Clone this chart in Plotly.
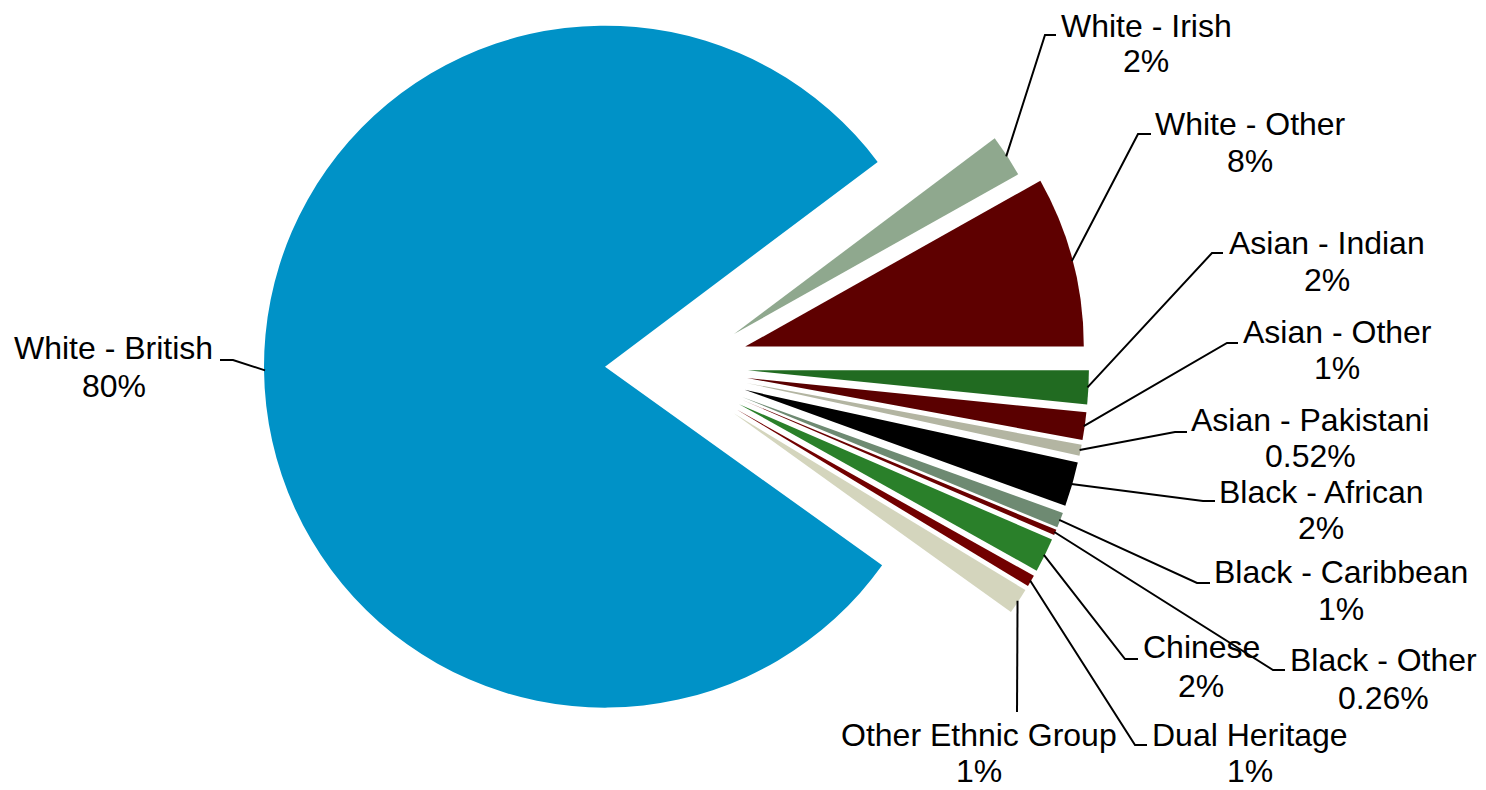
import numpy as np
import plotly.graph_objects as go

# The page body has an 8 px default margin, so the figure is drawn at (8, 8)
OFF = 8
PAGE_W, PAGE_H = 1486, 790
W, H = PAGE_W - OFF, PAGE_H - OFF

# ---------------- data ----------------
labels = ["White - Irish", "White - Other", "Asian - Indian", "Asian - Other",
          "Asian - Pakistani", "Black - African", "Black - Caribbean", "Black - Other",
          "Chinese", "Dual Heritage", "Other Ethnic Group", "White - British"]
values = [2.1, 8.15, 1.6, 1.3, 0.52, 2.1, 0.72, 0.26, 1.62, 0.55, 1.23, 79.85]
pct_text = ["2%", "8%", "2%", "1%", "0.52%", "2%", "1%", "0.26%", "2%", "1%", "1%", "80%"]
colors = ["#8FA88E", "#5E0000", "#216B21", "#5A0000", "#B3B5A2", "#000000",
          "#6E8A72", "#6A0000", "#2A802A", "#720000", "#D4D5BD", "#0092C7"]

# ---------------- layout (page pixels) ----------------
CX, CY = 662, 366        # centre of the un-exploded pie
R = 341                  # radius
PULL_SMALL = 86          # explosion of the small slices
PULL_BIG = 57            # explosion of the main slice
ROTATION = 53.1          # start angle of first slice (deg clockwise from 12 o'clock)

label_x = [1146, 1250, 1327, 1337, 1310, 1321, 1341, 1383, 1201, 1250, 979, 114]
name_y = [26, 124, 243, 332, 420, 492, 572, 660, 647, 735, 735, 348]
pct_y = [61, 161, 280, 368, 456, 528, 609, 698, 686, 771, 771, 386]
elbow = [(1045, 35), (1138, 134), (1212, 253), (1227, 343), (1175, 432), (1203, 501),
         (1197, 583), (1273, 670), (1125, 659), (1135, 745), (1017, 712), (233, 360)]
tick_end = [(1056, 35), (1151, 134), (1223, 253), (1238, 343), (1187, 432), (1215, 501),
            (1210, 583), (1285, 670), (1138, 659), (1147, 745), None, (220, 360)]


def px(x):
    return (x - OFF) / W


def py(y):
    return 1 - (y - OFF) / H


def clamp(v):
    return float(min(1.0, max(0.0, v)))


n = len(values)
total = float(sum(values))
cum = np.concatenate([[0.0], np.cumsum(values)[:-1]])
big = int(np.argmax(values))

fig = go.Figure()
shapes = []
annotations = []
font = dict(family="Liberation Sans, Arial, sans-serif", size=32, color="black")

for i in range(n):
    a0 = ROTATION + 360.0 * cum[i] / total
    a1 = a0 + 360.0 * values[i] / total
    bis = np.radians((a0 + a1) / 2.0)
    ux, uy = np.sin(bis), -np.cos(bis)
    pull = PULL_BIG if i == big else PULL_SMALL
    ax, ay = CX + pull * ux, CY + pull * uy
    r = R
    if ay - OFF < R:  # keep the domain inside the figure
        ay = (ay + R + OFF) / 2.0
        r = ay - OFF
    dom_x = [clamp(px(ax - r)), clamp(px(ax + r))]
    dom_y = [clamp(py(ay + r)), clamp(py(ay - r))]
    slice_colors = [colors[j] if j == i else "rgba(0,0,0,0)" for j in range(n)]
    fig.add_trace(go.Pie(
        labels=labels, values=values, sort=False, direction="clockwise",
        rotation=ROTATION, textinfo="none",
        marker=dict(colors=slice_colors, line=dict(width=0)),
        domain=dict(x=dom_x, y=dom_y), showlegend=False,
        hoverinfo="label+percent", name=labels[i],
    ))

    # leader line from the slice arc to the label
    sx, sy = ax + (r - 1) * ux, ay + (r - 1) * uy
    pts = [(sx, sy), elbow[i]]
    if tick_end[i] is not None:
        pts.append(tick_end[i])
    path = "M " + " L ".join(f"{px(x):.5f},{py(y):.5f}" for x, y in pts)
    shapes.append(dict(type="path", path=path, xref="paper", yref="paper",
                       line=dict(color="black", width=2)))

    annotations.append(dict(text=labels[i], x=px(label_x[i]), y=py(name_y[i]),
                            xref="paper", yref="paper", xanchor="center", yanchor="middle",
                            showarrow=False, font=font))
    annotations.append(dict(text=pct_text[i], x=px(label_x[i]), y=py(pct_y[i]),
                            xref="paper", yref="paper", xanchor="center", yanchor="middle",
                            showarrow=False, font=font))

fig.update_layout(
    width=W, height=H,
    margin=dict(l=0, r=0, t=0, b=0),
    paper_bgcolor="white", plot_bgcolor="white",
    shapes=shapes, annotations=annotations,
)

fig.write_html("out.html")
